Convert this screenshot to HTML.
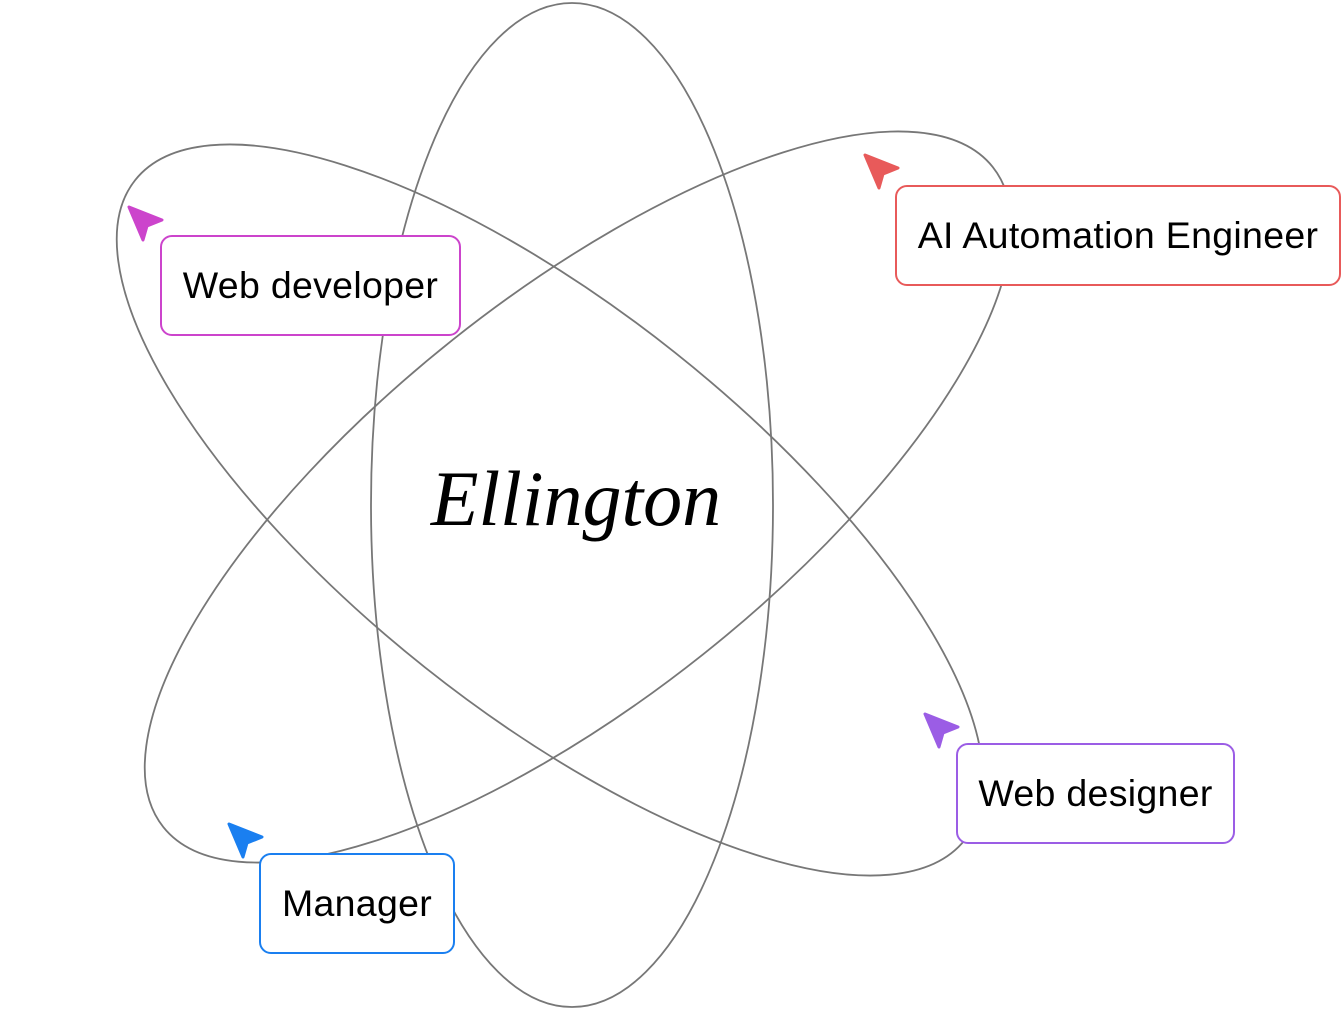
<!DOCTYPE html>
<html><head><meta charset="utf-8"><style>
html,body{margin:0;padding:0;background:#fff;}
body{width:1343px;height:1010px;position:relative;overflow:hidden;font-family:"Liberation Sans",sans-serif;}
.box{position:absolute;box-sizing:border-box;border:2.5px solid;border-radius:12px;background:#fff;display:flex;align-items:center;justify-content:center;font-size:37.5px;color:#000;letter-spacing:0.3px;}
svg{position:absolute;left:0;top:0;}
</style></head><body>
<svg width="1343" height="1010">
<g fill="none" stroke="#777" stroke-width="1.8">
<ellipse cx="572" cy="505" rx="201" ry="502"/>
<ellipse cx="550" cy="510" rx="530" ry="201" transform="rotate(38.5 550 510)"/>
<ellipse cx="578" cy="497" rx="530" ry="201" transform="rotate(-38.5 578 497)"/>
</g>
<polygon points="129,207 162,220 147,226 143,240" fill="#cc44cc" stroke="#cc44cc" stroke-width="3" stroke-linejoin="round"/>
<polygon points="865,155 898,168 883,174 879,188" fill="#e85a5a" stroke="#e85a5a" stroke-width="3" stroke-linejoin="round"/>
<polygon points="925,714 958,727 943,733 939,747" fill="#9b5de5" stroke="#9b5de5" stroke-width="3" stroke-linejoin="round"/>
<polygon points="229,824 262,837 247,843 243,857" fill="#1a7ff0" stroke="#1a7ff0" stroke-width="3" stroke-linejoin="round"/>
<text x="576" y="525" text-anchor="middle" font-family="Liberation Serif,serif" font-style="italic" font-size="78" fill="#000">Ellington</text>
</svg>
<div class="box" style="left:160px;top:235px;width:301px;height:101px;border-color:#cc44cc;">Web developer</div>
<div class="box" style="left:895px;top:185px;width:446px;height:101px;border-color:#e85a5a;">AI Automation Engineer</div>
<div class="box" style="left:956px;top:743px;width:279px;height:101px;border-color:#9b5de5;">Web designer</div>
<div class="box" style="left:259px;top:853px;width:196px;height:101px;border-color:#1a7ff0;">Manager</div>
</body></html>
